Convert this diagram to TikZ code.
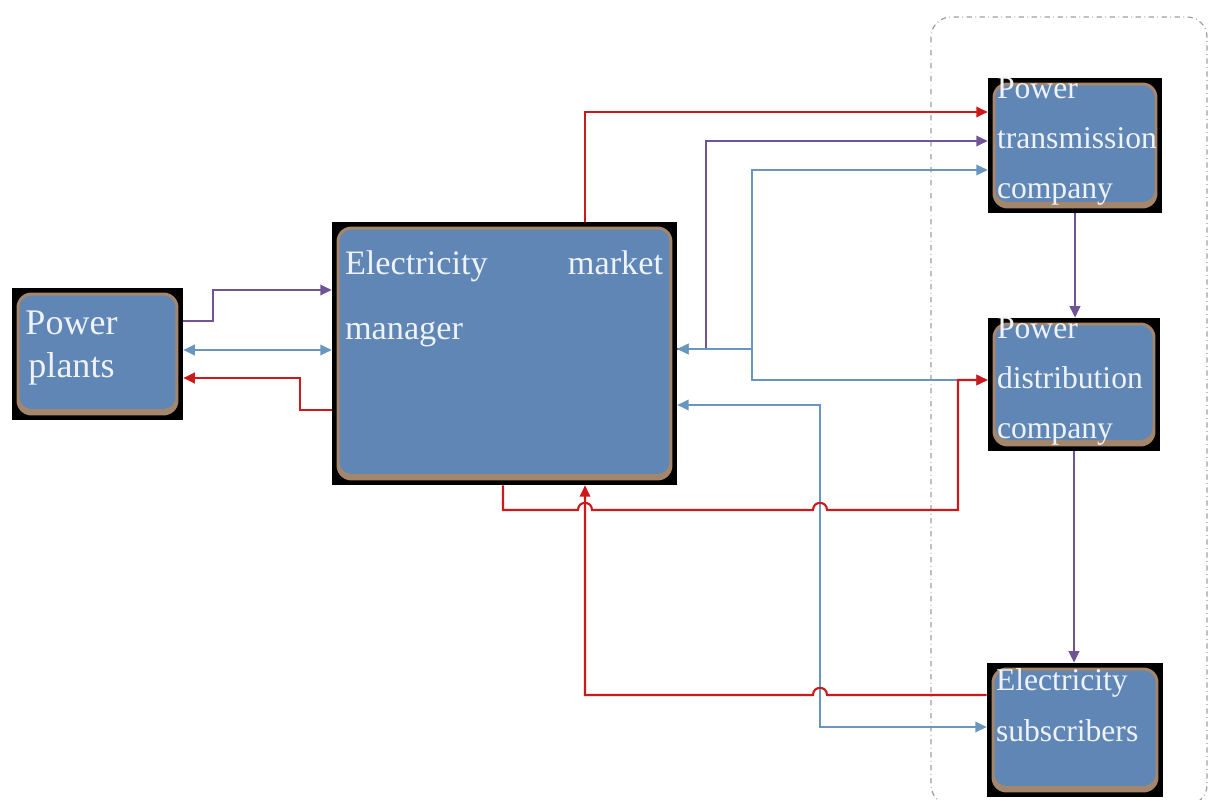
\documentclass[tikz,border=0pt]{standalone}
\usepackage{fontspec}
\setmainfont{Liberation Serif}
\usetikzlibrary{arrows.meta, calc}
\definecolor{boxblue}{RGB}{96,134,181}
\definecolor{boxrim}{RGB}{164,134,108}
\definecolor{linered}{RGB}{205,25,25}
\definecolor{linepurple}{RGB}{112,84,150}
\definecolor{lineblue}{RGB}{104,150,190}
\definecolor{labelwhite}{RGB}{238,243,250}

\begin{document}
\begin{tikzpicture}[x=0.02cm, y=-0.02cm, >={Triangle[length=6.5pt,width=6pt]},
  unit/.style={fill=black, inner sep=0pt, path picture={
    \fill[boxrim, rounded corners=0.3cm] ([shift={(0.09cm,0.09cm)}]path picture bounding box.south west) rectangle ([shift={(-0.09cm,-0.09cm)}]path picture bounding box.north east);
    \fill[boxblue, rounded corners=0.24cm] ([shift={(0.15cm,0.22cm)}]path picture bounding box.south west) rectangle ([shift={(-0.15cm,-0.15cm)}]path picture bounding box.north east);}},
  caption/.style={text=labelwhite, inner sep=0pt, anchor=north west, align=left, font=\fontsize{18}{28.5}\selectfont},
  flow/.style={line width=1.2pt}]
  \useasboundingbox (0,0) rectangle (1210,800);
  \draw[gray!75, dash dot, line width=0.7pt, rounded corners=0.4cm] (931,17) rectangle (1207,805);

  \node[unit, minimum width=3.42cm, minimum height=2.64cm] (plants) at (97.5,354) {};
  \node[unit, minimum width=6.9cm, minimum height=5.26cm] (manager) at (504.5,353.5) {};
  \node[unit, minimum width=3.48cm, minimum height=2.7cm] (transmission) at (1075,145.5) {};
  \node[unit, minimum width=3.44cm, minimum height=2.66cm] (distribution) at (1074,384.5) {};
  \node[unit, minimum width=3.52cm, minimum height=2.68cm] (subscribers) at (1075,730) {};

  \node[caption, anchor=center, align=center, font=\fontsize{20.5}{24}\selectfont] (plantstext) at ($(plants)+(-26,-6)$) {Power\\plants};
  \node[caption, text width=6.36cm, font=\fontsize{19.5}{37}\selectfont] (managertext) at ($(manager.north west)+(13,29)$) {Electricity\hfill market\\manager};
  \node[caption] (transmissiontext) at ($(transmission.north west)+(9,0)$) {Power\\transmission\\company};
  \node[caption] (distributiontext) at ($(distribution.north west)+(9,0)$) {Power\\distribution\\company};
  \node[caption] (subscriberstext) at ($(subscribers.north west)+(9,6)$) {Electricity\\subscribers};

  \draw[flow, linepurple, ->] ($(plants.east)+(0,-33)$) -- ++(30,0) |- ($(manager.west)+(0,-63.5)$);
  \draw[flow, lineblue, <->] ($(plants.east)+(0,-4)$) -- ($(manager.west)+(0,-3.5)$);
  \draw[flow, linered, ->] ($(manager.west)+(0,56.5)$) -- ++(-32,0) |- ($(plants.east)+(0,24)$);

  \draw[flow, linered, ->] ($(manager.north)+(80.5,0)$) |- ($(transmission.west)+(0,-33.5)$);
  \draw[flow, linepurple, ->] ($(manager.east)+(0,-4.5)$) -- ++(29,0) |- ($(transmission.west)+(0,-4.5)$);
  \draw[flow, lineblue, <->] ($(manager.east)+(0,-4.5)$) -- ++(75,0) |- ($(transmission.west)+(0,24.5)$);
  \draw[flow, lineblue, <->] ($(manager.east)+(0,-4.5)$) -- ++(75,0) |- ($(distribution.west)+(0,-4.5)$);
  \draw[flow, lineblue, <->] ($(manager.east)+(0,51.5)$) -- ++(143,0) |- ($(subscribers.west)+(0,-3)$);

  \draw[flow, linered, ->] ($(manager.south)+(-1.5,0)$) |- (578,510) .. controls (578,500.5) and (592,500.5) .. (592,510)
    -- (813,510) .. controls (813,500.5) and (827,500.5) .. (827,510) -- (958,510) |- ($(distribution.west)+(0,-4.5)$);
  \draw[flow, linered, ->] ($(subscribers.west)+(0,-35)$) -- (827,695) .. controls (827,685.5) and (813,685.5) .. (813,695)
    -| ($(manager.south)+(80.5,0)$);

  \draw[flow, linepurple, ->] (transmission.south) -- (transmission.south |- distribution.north);
  \draw[flow, linepurple, ->] (distribution.south) -- (distribution.south |- subscribers.north);
\end{tikzpicture}
\end{document}
